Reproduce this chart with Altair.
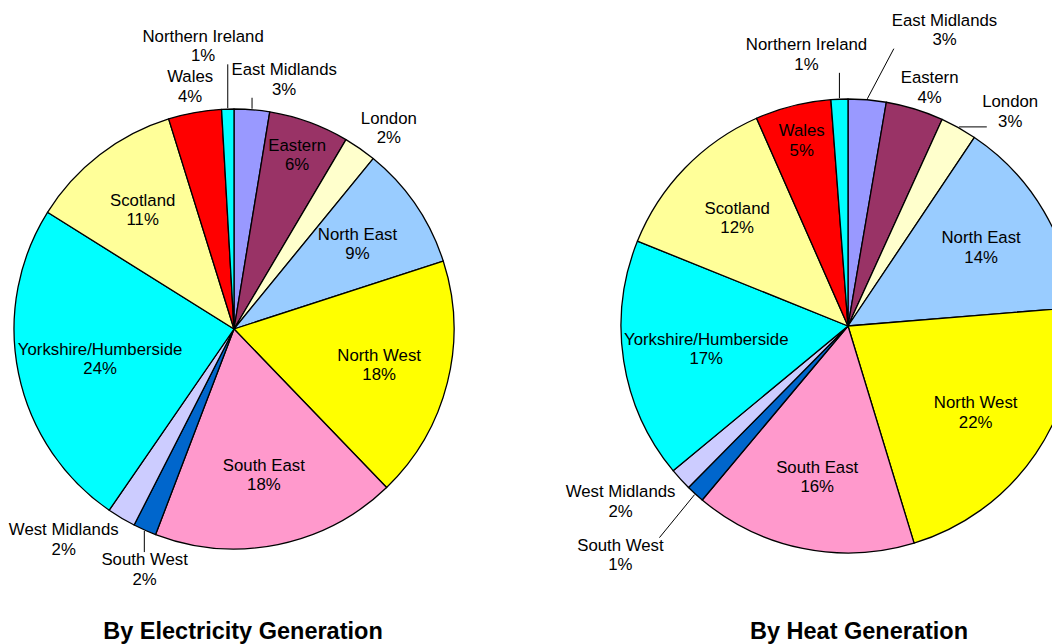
import altair as alt
import pandas as pd

# ---------------- data ----------------
regions = ["East Midlands", "Eastern", "London", "North East", "North West",
           "South East", "South West", "West Midlands", "Yorkshire/Humberside",
           "Scotland", "Wales", "Northern Ireland"]
electricity_share = [2.6, 5.9, 2.4, 9.1, 17.8, 18.0, 1.7, 2.1, 24.3, 11.3, 3.9, 0.9]
heat_share = [2.7, 4.1, 2.6, 14.3, 21.6, 15.8, 1.3, 1.6, 17.1, 12.3, 5.4, 1.2]
titles = ["By Electricity Generation", "By Heat Generation"]

# ---------------- style ----------------
region_colors = ["#9999FF", "#993366", "#FFFFCC", "#99CCFF", "#FFFF00", "#FF99CC",
                 "#0066CC", "#CCCCFF", "#00FFFF", "#FFFF99", "#FF0000", "#00FFFF"]
FONT = "Liberation Sans"
W, H = 1044, 636
LINE_H = 19.5

layouts = [
    dict(cx=226, cy=321, r=220, title_x=235,
         nudge={"East Midlands": (30, -3), "London": (10, 7), "South West": (15, 6),
                "West Midlands": (-34, -18), "Northern Ireland": (-24, -38)}),
    dict(cx=840, cy=318, r=227, title_x=851,
         nudge={"East Midlands": (75, -42), "Eastern": (6, 8), "London": (36, 12),
                "South West": (-45, 29), "West Midlands": (-20, -14),
                "Northern Ireland": (-32, -19)}),
]

color_scale = alt.Scale(domain=regions, range=region_colors)


def cond_expr(mapping, k):
    expr = "0"
    for name, v in mapping.items():
        expr = f"datum.region === '{name}' ? {v[k]} : ({expr})"
    return expr


def pie(values, title, lay):
    cx, cy, R = lay["cx"], lay["cy"], lay["r"]
    df = pd.DataFrame({"region": regions, "share": values,
                       "order": list(range(len(regions)))})
    base = (
        alt.Chart(df)
        .transform_joinaggregate(total="sum(share)")
        .transform_window(cum="sum(share)",
                          sort=[alt.SortField("order", order="ascending")],
                          frame=[None, 0])
        .transform_calculate(frac="datum.share / datum.total")
        .transform_calculate(mid="2 * PI * (datum.cum - datum.share / 2) / datum.total")
        .transform_calculate(label="datum.region + '\\n' + format(datum.frac, '.0%')")
        .transform_calculate(outside="datum.frac < 0.05")
        .transform_calculate(hw="3.9 * length(datum.region)")
        .transform_calculate(
            lr=f"datum.outside ? {R} + 4 + abs(sin(datum.mid)) * datum.hw + abs(cos(datum.mid)) * 19"
               f" : (datum.frac < 0.07 ? {0.84 * R} : {0.68 * R})")
        .transform_calculate(ndx=cond_expr(lay["nudge"], 0))
        .transform_calculate(ndy=cond_expr(lay["nudge"], 1))
        .transform_calculate(ly=f"{cy} - datum.lr * cos(datum.mid) + datum.ndy")
        .transform_calculate(lx0=f"{cx} + datum.lr * sin(datum.mid) + datum.ndx")
        # keep inside labels within the circle
        .transform_calculate(
            room=f"sqrt(max(0, {R * R} - pow(datum.ly - {cy}, 2))) - 6 - datum.hw")
        .transform_calculate(
            lx=f"datum.outside ? datum.lx0 : clamp(datum.lx0, {cx} - datum.room, {cx} + datum.room)")
        .transform_calculate(ax=f"{cx} + {R + 1} * sin(datum.mid)")
        .transform_calculate(ay=f"{cy} - {R + 1} * cos(datum.mid)")
        .transform_calculate(bx="clamp(datum.ax, datum.lx - datum.hw, datum.lx + datum.hw)")
        .transform_calculate(by="clamp(datum.ay, datum.ly - 18, datum.ly + 18)")
        .transform_calculate(lead="sqrt(pow(datum.bx - datum.ax, 2) + pow(datum.by - datum.ay, 2))")
    )

    arcs = base.mark_arc(radius=R, stroke="black", strokeWidth=1.3,
                         strokeJoin="round").encode(
        theta=alt.Theta("share:Q", stack=True),
        order=alt.Order("order:Q"),
        color=alt.Color("region:N", scale=color_scale, legend=None),
        x=alt.value(cx), y=alt.value(cy),
    )

    labels = base.mark_text(font=FONT, fontSize=16.8, lineBreak="\n", lineHeight=LINE_H,
                            dy=-LINE_H / 2, align="center", baseline="middle",
                            color="black").encode(
        x=alt.X("lx:Q", scale=None, axis=None),
        y=alt.Y("ly:Q", scale=None, axis=None),
        text="label:N",
    )

    leaders = base.transform_filter("datum.outside && datum.lead > 10").mark_rule(
        color="black", strokeWidth=1).encode(
        x=alt.X("ax:Q", scale=None, axis=None),
        y=alt.Y("ay:Q", scale=None, axis=None),
        x2="bx:Q", y2="by:Q",
    )

    ttl = alt.Chart(pd.DataFrame({"title": [title]})).mark_text(
        font=FONT, fontSize=23.5, fontWeight="bold", baseline="alphabetic",
        align="center", color="black").encode(
        text="title:N", x=alt.value(lay["title_x"]), y=alt.value(631))

    return [arcs, leaders, labels, ttl]


layers = pie(electricity_share, titles[0], layouts[0]) + pie(heat_share, titles[1], layouts[1])

chart = alt.layer(*layers).properties(
    width=W, height=H, padding=0,
    autosize=alt.AutoSizeParams(type="none"),
).configure_view(stroke=None)

chart.save("out.html", embed_options={"renderer": "svg", "actions": False})
